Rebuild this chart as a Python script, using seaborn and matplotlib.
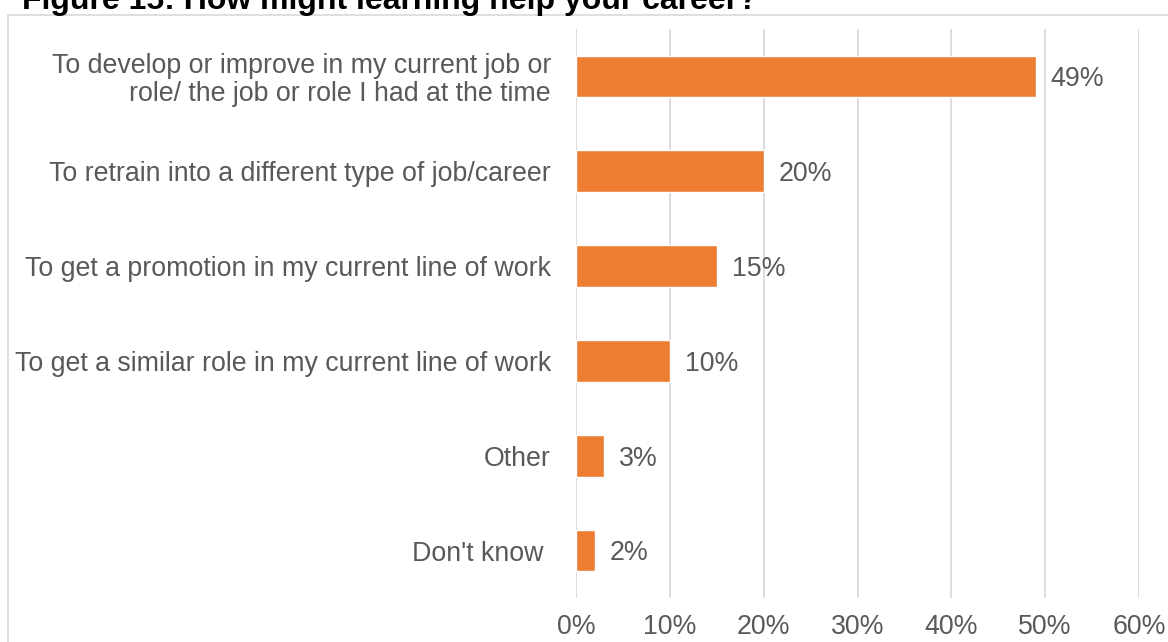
import matplotlib
matplotlib.use("Agg")
import matplotlib.pyplot as plt
import seaborn as sns
import pandas as pd
from matplotlib.patches import Rectangle

categories = [
    "To develop or improve in my current job or\nrole/ the job or role I had at the time",
    "To retrain into a different type of job/career",
    "To get a promotion in my current line of work",
    "To get a similar role in my current line of work",
    "Other",
    "Don't know ",
]
values = [49, 20, 15, 10, 3, 2]
xticks = [0, 10, 20, 30, 40, 50, 60]
title = "Figure 15: How might learning help your career?"

sns.set_theme(style="white")
plt.rcParams["font.family"] = ["Liberation Sans", "DejaVu Sans"]

text_grey = "#595959"
grid_grey = "#D9D9D9"
bar_orange = "#ED7D31"
fs = 19.3

df = pd.DataFrame({"reason": categories, "share": values})

fig = plt.figure(figsize=(11.68, 6.42), dpi=100)
ax = fig.add_axes([576 / 1168, 1 - 598 / 642, (1139 - 576) / 1168, (598 - 29) / 642])

sns.barplot(data=df, x="share", y="reason", color=bar_orange, width=0.44,
            saturation=1, ax=ax, orient="h")

ax.set_xlim(0, 60)
ax.set_xticks(xticks)
ax.set_xticklabels([f"{t}%" for t in xticks], color=text_grey, fontsize=fs)
ax.tick_params(axis="x", length=0, pad=11.5)
ax.tick_params(axis="y", length=0, pad=18)
for lbl in ax.get_yticklabels():
    lbl.set_color(text_grey)
    lbl.set_fontsize(fs)
    lbl.set_horizontalalignment("right")
    lbl.set_linespacing(1.08)
ax.set_xlabel("")
ax.set_ylabel("")
ax.grid(axis="x", color=grid_grey, linewidth=1.3)
ax.grid(axis="y", visible=False)
ax.set_axisbelow(True)
for s in ax.spines.values():
    s.set_visible(False)

for i, v in enumerate(values):
    ax.text(v + 1.6, i + 0.03, f"{v}%", va="center", ha="left", color=text_grey, fontsize=fs)

# outer chart frame
fig.patches.append(Rectangle((8 / 1168, -0.05), 1.2, 1 - 15 / 642 + 0.05,
                             transform=fig.transFigure, fill=False,
                             edgecolor=grid_grey, linewidth=1.2))

fig.text(22 / 1168, 1 - 9 / 642, title, fontsize=23, fontweight="bold",
         color="black", ha="left", va="baseline")

fig.savefig("out.png", dpi=100)
